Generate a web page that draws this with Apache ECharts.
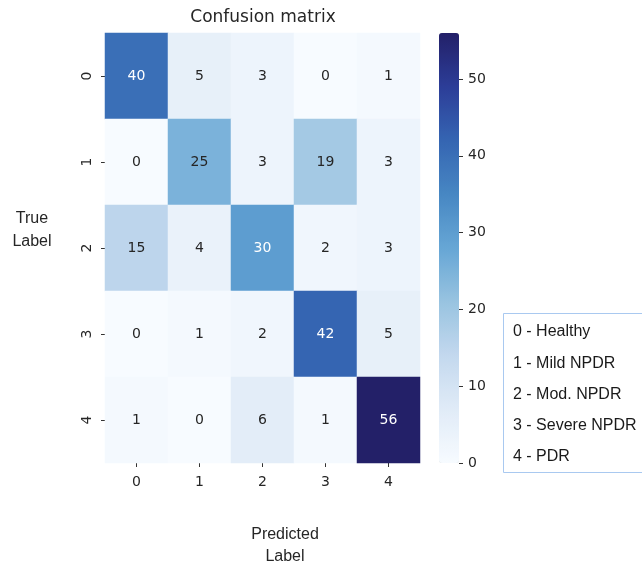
<!DOCTYPE html>
<html>
<head>
<meta charset="utf-8">
<script src="https://cdn.jsdelivr.net/npm/echarts@6/dist/echarts.min.js"></script>
<style>
  html, body { margin: 0; padding: 0; background: #fff; }
  #chart { width: 642px; height: 564px; }
</style>
</head>
<body>
<div id="chart"></div>
<script>
// class indices on both axes
const predictedLabels = ["0", "1", "2", "3", "4"];
const trueLabels = ["0", "1", "2", "3", "4"];
// one row per true class
const row0 = [40, 5, 3, 0, 1];
const row1 = [0, 25, 3, 19, 3];
const row2 = [15, 4, 30, 2, 3];
const row3 = [0, 1, 2, 42, 5];
const row4 = [1, 0, 6, 1, 56];
const rows = [row0, row1, row2, row3, row4];
const colorbarTicks = [0, 10, 20, 30, 40, 50];
const classNames = ["0 - Healthy", "1 - Mild NPDR", "2 - Mod. NPDR", "3 - Severe NPDR", "4 - PDR"];

const vMax = 56;
const blues = ["#f7fbff", "#e0ebf7", "#c3d8ee", "#98c3e0", "#66a6d5",
               "#4787c3", "#3565b2", "#2c3d98", "#232068"];

const cells = [];
rows.forEach(function (r, i) {
  r.forEach(function (v, j) {
    cells.push({
      value: [j, i, v],
      label: { color: v >= 28 ? "#ffffff" : "#262626" }
    });
  });
});

// axis line kept but invisible, so the ticks still get drawn
function hiddenLine() {
  return { show: true, onZero: false, lineStyle: { color: "rgba(0,0,0,0)", width: 0 } };
}
const tick = { show: true, alignWithLabel: true, length: 4, lineStyle: { color: "#333", width: 1 } };

const chart = echarts.init(document.getElementById("chart"));
chart.setOption({
  animation: false,
  textStyle: { fontFamily: "DejaVu Sans" },
  title: [
    {
      text: "Confusion matrix",
      left: 258, top: 4, textAlign: "center",
      textStyle: { fontSize: 17, fontWeight: "normal", color: "#262626", fontFamily: "DejaVu Sans" }
    },
    {
      text: "Predicted\nLabel",
      left: 280, top: 519, textAlign: "center",
      textStyle: { fontSize: 16, fontWeight: "normal", color: "#262626", lineHeight: 22, fontFamily: "Liberation Sans" }
    },
    {
      text: "True\nLabel",
      left: 27, top: 202, textAlign: "center",
      textStyle: { fontSize: 16, fontWeight: "normal", color: "#262626", lineHeight: 23, fontFamily: "Liberation Sans" }
    }
  ],
  grid: [
    { left: 105, top: 33, width: 315, height: 430 },
    { left: 439, top: 33, width: 20, height: 430 }
  ],
  xAxis: [
    {
      type: "category", gridIndex: 0, data: predictedLabels,
      axisLine: hiddenLine(),
      axisTick: tick,
      axisLabel: { fontSize: 14, color: "#262626", margin: 12 },
      splitLine: { show: false }
    },
    {
      type: "value", gridIndex: 1, show: false, min: 0, max: 1
    }
  ],
  yAxis: [
    {
      type: "category", gridIndex: 0, data: trueLabels, inverse: true,
      axisLine: hiddenLine(),
      axisTick: tick,
      axisLabel: { fontSize: 14, color: "#262626", rotate: 90, margin: 11 },
      splitLine: { show: false }
    },
    {
      type: "value", gridIndex: 1, position: "right", min: 0, max: vMax, interval: 10,
      axisLine: hiddenLine(),
      axisTick: { show: true, inside: false, length: 4, lineStyle: { color: "#333", width: 1 } },
      axisLabel: {
        fontSize: 14, color: "#262626", margin: 9,
        showMaxLabel: false,
        formatter: function (v) { return colorbarTicks.indexOf(v) >= 0 ? String(v) : ""; }
      },
      splitLine: { show: false }
    }
  ],
  visualMap: {
    type: "continuous",
    min: 0, max: vMax,
    dimension: 2,
    seriesIndex: 0,
    calculable: false,
    showLabel: false,
    text: null,
    left: 439, top: 33,
    padding: 0,
    itemWidth: 20,
    itemHeight: 430,
    inRange: { color: blues }
  },
  series: [
    {
      type: "heatmap",
      xAxisIndex: 0, yAxisIndex: 0,
      data: cells,
      label: { show: true, fontSize: 14, fontFamily: "DejaVu Sans" },
      itemStyle: { borderWidth: 0 },
      emphasis: { disabled: true }
    }
  ],
  graphic: [
    {
      type: "group", left: 503, top: 313,
      children: [
        {
          type: "rect",
          shape: { x: 0.5, y: 0.5, width: 160, height: 159 },
          style: { fill: "#fff", stroke: "#a9c9f0", lineWidth: 1 }
        }
      ].concat(classNames.map(function (name, k) {
        return {
          type: "text",
          x: 10, y: 19 + k * 31.25,
          style: {
            text: name, fill: "#1a1a1a", font: "16px 'Liberation Sans'",
            textVerticalAlign: "middle", verticalAlign: "middle"
          }
        };
      }))
    }
  ]
});
</script>
</body>
</html>
